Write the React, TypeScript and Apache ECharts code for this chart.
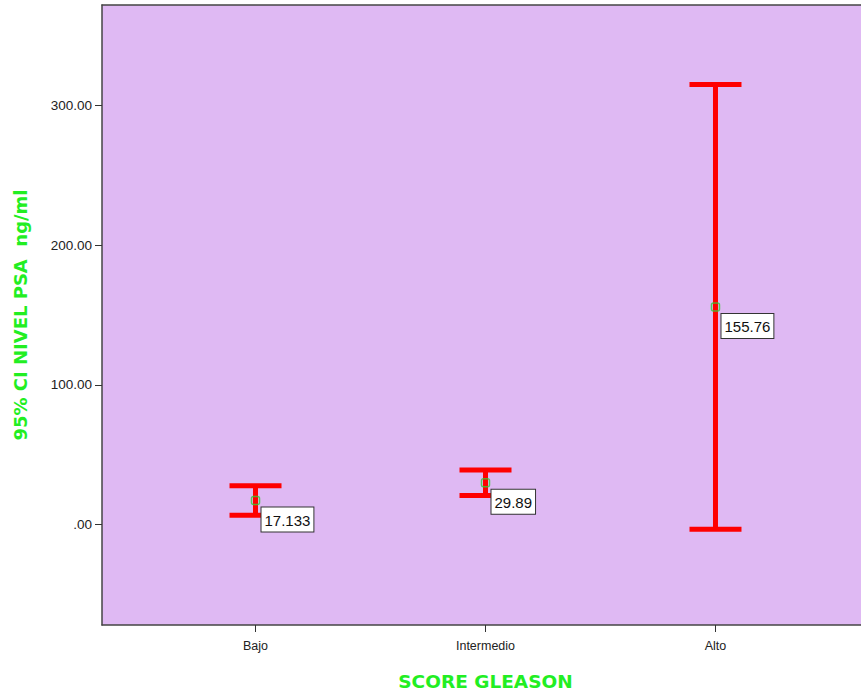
import React, { useEffect, useRef } from "react";
import * as echarts from "echarts";

const categories = ["Bajo", "Intermedio", "Alto"];
const means = [17.133, 29.89, 155.76];
const lowerCI = [6.6, 20.8, -3.5];
const upperCI = [27.7, 39.0, 315.0];
const meanLabels = ["17.133", "29.89", "155.76"];
const yTicks = [0, 100, 200, 300];

const FONT = "'Liberation Sans', Arial, sans-serif";
const NAME_FONT = "'DejaVu Sans', 'Liberation Sans', Arial, sans-serif";

export default function App() {
  const ref = useRef<HTMLDivElement>(null);
  useEffect(() => {
    if (!ref.current) return;
    const chart = echarts.init(ref.current, undefined, { renderer: "svg" });
    const positions = categories.map((_, i) => i + 1);
    const axisLineStyle = { color: "#444444", width: 1.5 };
    chart.setOption({
      animation: false,
      backgroundColor: "#ffffff",
      grid: {
        left: 102,
        top: 5,
        bottom: 66,
        right: -8,
        outerBoundsMode: "none",
        containLabel: false,
        show: true,
        backgroundColor: "#DFB9F3",
        borderWidth: 0,
      },
      xAxis: [
        {
          type: "value",
          min: 0.3325,
          max: 3.6675,
          name: "SCORE GLEASON",
          nameLocation: "middle",
          nameGap: 47,
          nameTextStyle: {
            color: "#22EE22",
            fontWeight: "bold",
            fontSize: 18.5,
            fontFamily: NAME_FONT,
          },
          axisLine: { show: true, onZero: false, lineStyle: axisLineStyle },
          axisTick: {
            show: true,
            customValues: positions,
            length: 7,
            lineStyle: { color: "#333333" },
          },
          axisLabel: {
            customValues: positions,
            formatter: (v: number) => categories[Math.round(v) - 1] ?? "",
            color: "#222222",
            fontSize: 12.5,
            fontFamily: FONT,
            margin: 14,
          },
          splitLine: { show: false },
        },
        {
          type: "value",
          position: "top",
          min: 0.3325,
          max: 3.6675,
          axisLine: { show: true, onZero: false, lineStyle: axisLineStyle },
          axisTick: { show: false },
          axisLabel: { show: false },
          splitLine: { show: false },
        },
      ],
      yAxis: {
        type: "value",
        min: -72,
        max: 372,
        name: "95% CI NIVEL PSA  ng/ml",
        nameLocation: "middle",
        nameGap: 73,
        nameRotate: 90,
        nameTextStyle: {
          color: "#22EE22",
          fontWeight: "bold",
          fontSize: 18,
          fontFamily: NAME_FONT,
        },
        axisLine: { show: true, onZero: false, lineStyle: axisLineStyle },
        axisTick: {
          show: true,
          customValues: yTicks,
          length: 7,
          lineStyle: { color: "#333333" },
        },
        axisLabel: {
          customValues: yTicks,
          formatter: (v: number) => (v === 0 ? ".00" : v.toFixed(2)),
          color: "#222222",
          fontSize: 13.5,
          fontFamily: FONT,
          margin: 10,
        },
        splitLine: { show: false },
      },
      series: [
        {
          type: "custom",
          xAxisIndex: 0,
          data: positions.map((p, i) => [p, lowerCI[i], upperCI[i]]),
          renderItem: (params: any, api: any) => {
            const x = api.value(0);
            const lo = api.coord([x, api.value(1)]);
            const hi = api.coord([x, api.value(2)]);
            const half = 26;
            const style = { stroke: "#FF0000", lineWidth: 5, fill: "none" };
            return {
              type: "group",
              children: [
                { type: "line", shape: { x1: lo[0], y1: lo[1], x2: hi[0], y2: hi[1] }, style },
                { type: "line", shape: { x1: hi[0] - half, y1: hi[1], x2: hi[0] + half, y2: hi[1] }, style },
                { type: "line", shape: { x1: lo[0] - half, y1: lo[1], x2: lo[0] + half, y2: lo[1] }, style },
              ],
            };
          },
          z: 1,
        },
        {
          type: "scatter",
          xAxisIndex: 0,
          data: positions.map((p, i) => [p, means[i]]),
          symbol: "roundRect",
          symbolSize: 8,
          itemStyle: { color: "rgba(0,0,0,0)", borderColor: "#33CC33", borderWidth: 1.5 },
          z: 5,
        },
        {
          type: "custom",
          xAxisIndex: 0,
          data: positions.map((p, i) => [p, means[i]]),
          renderItem: (params: any, api: any) => {
            const pt = api.coord([api.value(0), api.value(1)]);
            return {
              type: "text",
              x: pt[0] + 6,
              y: pt[1] + 7,
              z2: 100,
              style: {
                text: meanLabels[params.dataIndex],
                fill: "#111111",
                fontSize: 15,
                fontFamily: FONT,
                backgroundColor: "#ffffff",
                borderColor: "#333333",
                borderWidth: 1,
                padding: [5, 3, 4, 3],
                align: "left",
                verticalAlign: "top",
              },
            };
          },
          z: 10,
        },
      ],
    });
    return () => chart.dispose();
  }, []);
  return <div ref={ref} style={{ width: 861, height: 691, position: "absolute", left: 0, top: 0 }} />;
}
